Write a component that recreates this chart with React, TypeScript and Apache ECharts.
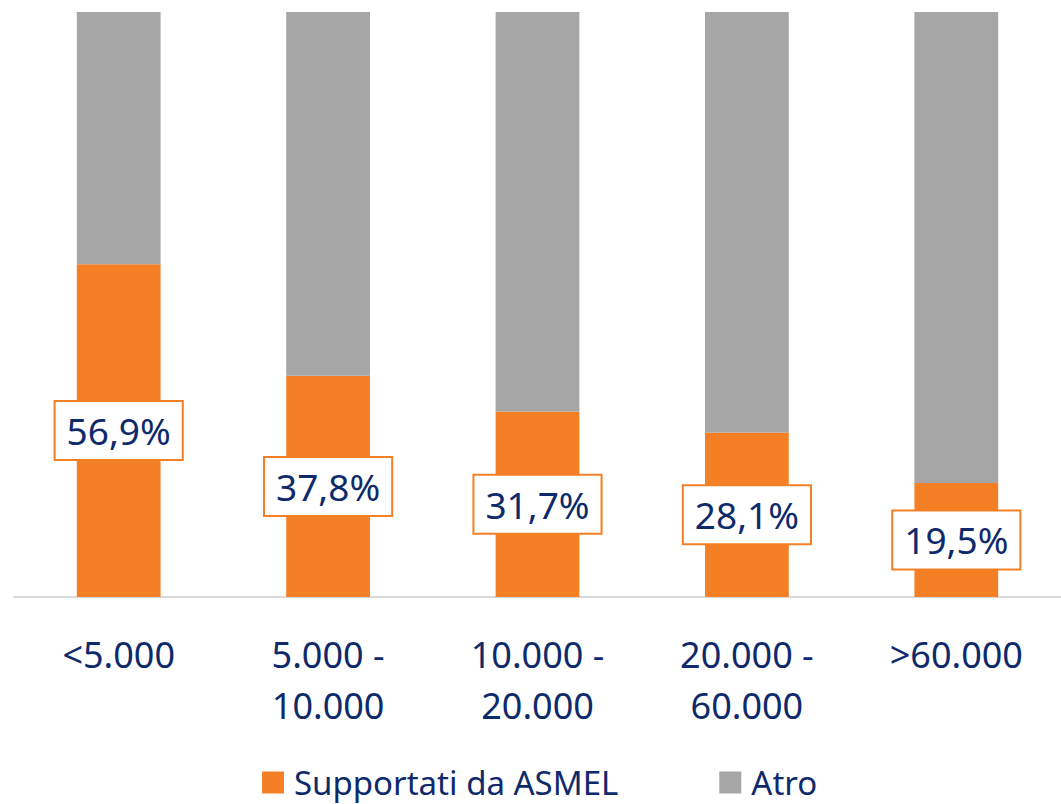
import React, { useEffect, useRef } from "react";
import * as echarts from "echarts";

const categories = ["<5.000", "5.000 -\n10.000", "10.000 -\n20.000", "20.000 -\n60.000", ">60.000"];
const supportati = [56.9, 37.8, 31.7, 28.1, 19.5];
const altro = [43.1, 62.2, 68.3, 71.9, 80.5];

const ORANGE = "#F47F24";
const GRAY = "#A6A6A6";
const NAVY = "#0E2A6B";
const FONT = "'Noto Sans', 'Open Sans', sans-serif";

export default function App() {
  const ref = useRef<HTMLDivElement>(null);
  useEffect(() => {
    if (!ref.current) return;
    const chart = echarts.init(ref.current, undefined, { renderer: "svg" });
    chart.setOption({
      animation: false,
      textStyle: { fontFamily: FONT },
      grid: { left: 14, top: 12, bottom: 207, width: 1055 },
      xAxis: {
        type: "category",
        data: categories,
        axisLine: { lineStyle: { color: "#D9D9D9", width: 2 } },
        axisTick: { show: false },
        axisLabel: {
          color: NAVY,
          fontSize: 36,
          lineHeight: 51,
          margin: 32,
          fontFamily: FONT,
          interval: 0,
        },
      },
      yAxis: {
        type: "value",
        min: 0,
        max: 100,
        show: false,
        splitLine: { show: false },
      },
      legend: {
        left: 262,
        top: 766,
        padding: 0,
        itemWidth: 22,
        itemHeight: 22,
        itemGap: 101,
        icon: "rect",
        textStyle: { color: NAVY, fontSize: 33, fontFamily: FONT, padding: [0, 0, 0, 5] },
        data: ["Supportati da ASMEL", "Atro"],
      },
      series: [
        {
          name: "Supportati da ASMEL",
          type: "bar",
          stack: "a",
          data: supportati,
          barWidth: "40%",
          itemStyle: { color: ORANGE },
          label: {
            show: true,
            position: "inside",
            formatter: (p: any) => p.value.toFixed(1).replace(".", ",") + "%",
            color: NAVY,
            fontSize: 37,
            lineHeight: 41,
            fontFamily: FONT,
            backgroundColor: "#FFFFFF",
            borderColor: ORANGE,
            borderWidth: 2,
            padding: [8, 11, 8, 11],
          },
        },
        {
          name: "Atro",
          type: "bar",
          stack: "a",
          data: altro,
          barWidth: "40%",
          itemStyle: { color: GRAY },
        },
      ],
    });
    return () => chart.dispose();
  }, []);
  return (
    <div
      ref={ref}
      style={{ position: "absolute", left: 0, top: 0, width: 1061, height: 804, background: "#fff" }}
    />
  );
}
